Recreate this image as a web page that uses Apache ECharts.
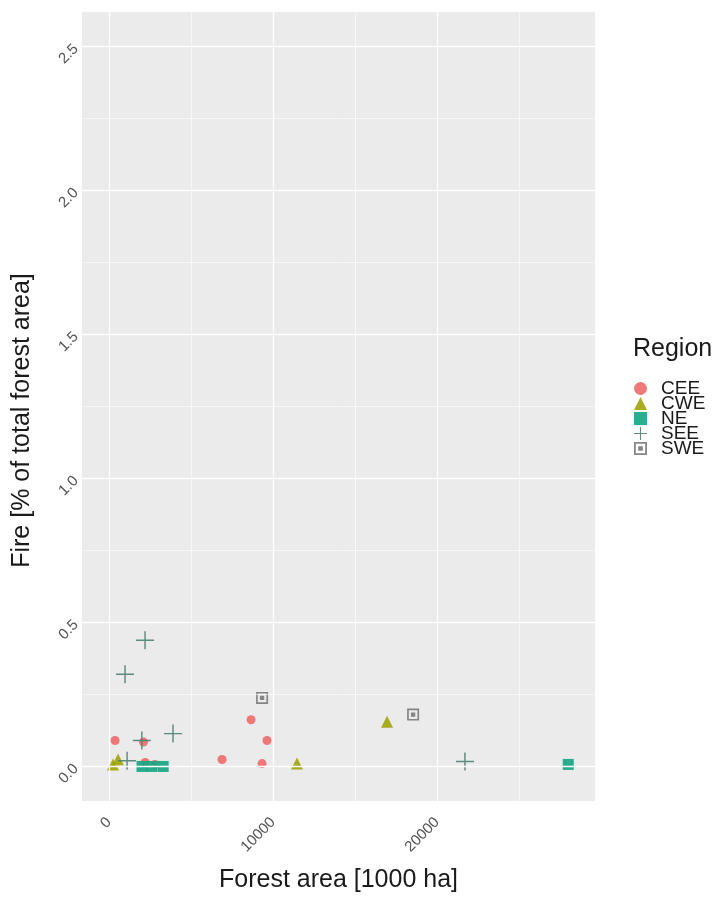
<!DOCTYPE html>
<html>
<head>
<meta charset="utf-8">
<script src="https://cdn.jsdelivr.net/npm/echarts@6/dist/echarts.min.js"></script>
<style>
    html,body{margin:0;padding:0;background:#fff;}
    #chart{width:724px;height:898px;}
</style>
</head>
<body>
<div id="chart"></div>
<script>
// 数据 (forest area [1000 ha], fire [%])
let regions = ['CEE','CWE','NE','SEE','SWE']
let cee_points = [[366,0.09],[2100,0.085],[2200,0.014],[2800,0.007],[6890,0.024],[8660,0.162],[9630,0.09],[9330,0.01]]
let cwe_points = [[240,0.007],[550,0.024],[11460,0.01],[16950,0.155]]
let ne_points = [[2010,0],[2620,0],[3300,0],[28000,0.007]]
let see_points = [[2195,0.438],[975,0.32],[3900,0.114],[2000,0.09],[1100,0.02],[21700,0.017]]
let swe_points = [[9330,0.238],[18540,0.18]]
let x_ticks = [0,10000,20000]
let y_ticks = [0,0.5,1,1.5,2,2.5]
let x_minor = [5000,15000,25000]
let y_minor = [0.25,0.75,1.25,1.75,2.25]

let font = 'Liberation Sans, Arial, sans-serif'
let colors = {CEE:'#EE6A6E',CWE:'#9EA40A',NE:'#13A584',SEE:'#4F7E72',SWE:'#7A7A7A'}
let symbols = {
    CEE:'circle',
    CWE:'triangle',
    NE:'rect',
    SEE:'path://M4.6,0 H5.4 V4.6 H10 V5.4 H5.4 V10 H4.6 V5.4 H0 V4.6 H4.6 Z',
    SWE:'path://M0,0 H10 V10 H0 Z M1.4,8.6 H8.6 V1.4 H1.4 Z M3.2,3.2 H6.8 V6.8 H3.2 Z'
}
let sizes = {CEE:9,CWE:12,NE:11,SEE:18,SWE:12}
let points = {CEE:cee_points,CWE:cwe_points,NE:ne_points,SEE:see_points,SWE:swe_points}

var mychart = echarts.init(document.getElementById('chart'))

// 网格线
let grid_lines = []
x_ticks.forEach(v=>grid_lines.push({xAxis:v,lineStyle:{width:1.3}}))
y_ticks.forEach(v=>grid_lines.push({yAxis:v,lineStyle:{width:1.3}}))
x_minor.forEach(v=>grid_lines.push({xAxis:v,lineStyle:{width:0.6}}))
y_minor.forEach(v=>grid_lines.push({yAxis:v,lineStyle:{width:0.6}}))

let series = [{
    name:'grid',
    type:'scatter',
    data:[],
    z:1,
    silent:true,
    markLine:{
        silent:true,
        symbol:['none','none'],
        label:{show:false},
        lineStyle:{color:'#ffffff',type:'solid'},
        data:grid_lines
    }
}]
regions.forEach(r=>{
    series.push({
        name:r,
        type:'scatter',
        z:3,
        symbol:symbols[r],
        symbolSize:sizes[r],
        itemStyle:{color:colors[r],opacity:0.9},
        data:points[r]
    })
})

mychart.setOption({
    animation:false,
    textStyle:{fontFamily:font},
    grid:{
        left:82,
        right:129,
        top:12,
        bottom:93,
        show:true,
        backgroundColor:'#EBEBEB',
        borderWidth:0
    },
    legend:{
        orient:'vertical',
        left:629,
        top:374,
        data:regions,
        itemWidth:13,
        itemHeight:13,
        itemGap:-4,
        textStyle:{fontFamily:font,fontSize:19,color:'#1a1a1a',padding:[0,0,0,9]}
    },
    graphic:[{
        type:'text',
        left:633,
        top:337,
        style:{text:'Region',font:'25px Liberation Sans, Arial, sans-serif',fill:'#1a1a1a'}
    }],
    xAxis:{
        type:'value',
        min:-1650,
        max:29630,
        name:'Forest area [1000 ha]',
        nameLocation:'middle',
        nameGap:67,
        nameTextStyle:{fontFamily:font,fontSize:25,color:'#1a1a1a'},
        axisLine:{show:false},
        splitLine:{show:false},
        axisTick:{show:true,length:4,customValues:x_ticks,lineStyle:{color:'#444'}},
        axisLabel:{
            customValues:x_ticks,
            rotate:45,
            margin:19,
            fontSize:15,
            color:'#555',
            fontFamily:font,
            formatter:v=>String(v)
        }
    },
    yAxis:{
        type:'value',
        min:-0.12,
        max:2.62,
        name:'Fire [% of total forest area]',
        nameLocation:'middle',
        nameGap:47,
        nameTextStyle:{fontFamily:font,fontSize:25,color:'#1a1a1a',padding:[0,28,0,0]},
        axisLine:{show:false},
        splitLine:{show:false},
        axisTick:{show:true,length:4,customValues:y_ticks,lineStyle:{color:'#444'}},
        axisLabel:{
            customValues:y_ticks,
            rotate:45,
            margin:6,
            fontSize:15,
            color:'#555',
            fontFamily:font,
            formatter:v=>v.toFixed(1)
        }
    },
    series:series
})
</script>
</body>
</html>
